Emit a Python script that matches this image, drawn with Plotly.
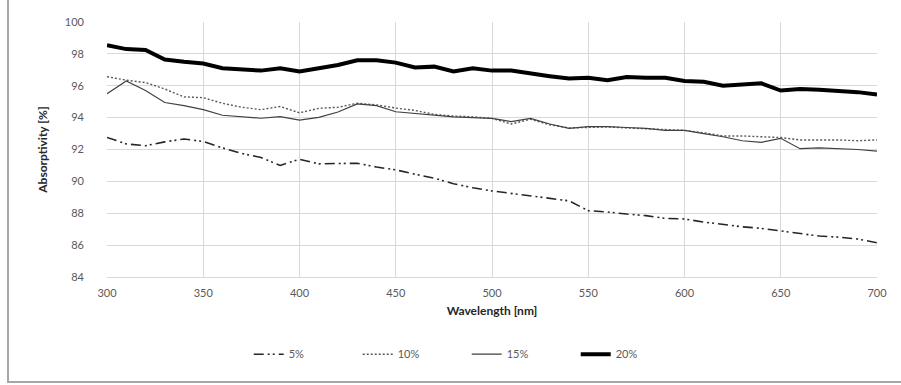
import plotly.graph_objects as go

wavelength = list(range(300, 701, 10))

abs_5 = [92.76, 92.35, 92.24, 92.48, 92.66, 92.5, 92.1, 91.75, 91.5, 91.0,
         91.39, 91.1, 91.12, 91.14, 90.9, 90.72, 90.45, 90.2, 89.85, 89.6,
         89.4, 89.25, 89.1, 88.95, 88.78, 88.16, 88.08, 87.95, 87.85, 87.68,
         87.64, 87.45, 87.3, 87.15, 87.05, 86.9, 86.72, 86.57, 86.5, 86.38, 86.15]

abs_10 = [96.57, 96.35, 96.2, 95.8, 95.3, 95.25, 94.9, 94.65, 94.5, 94.7,
          94.3, 94.58, 94.65, 94.9, 94.8, 94.6, 94.45, 94.2, 94.1, 94.05,
          93.95, 93.6, 93.9, 93.55, 93.35, 93.4, 93.42, 93.35, 93.3, 93.25,
          93.2, 93.05, 92.85, 92.85, 92.8, 92.75, 92.6, 92.6, 92.6, 92.55, 92.6]

abs_15 = [95.5, 96.3, 95.7, 94.95, 94.75, 94.5, 94.15, 94.05, 93.96, 94.06,
          93.85, 94.02, 94.35, 94.86, 94.75, 94.37, 94.25, 94.15, 94.05, 94.0,
          93.95, 93.75, 93.95, 93.6, 93.33, 93.43, 93.43, 93.38, 93.33, 93.2,
          93.2, 93.0, 92.8, 92.55, 92.45, 92.7, 92.05, 92.1, 92.05, 92.0, 91.9]

abs_20 = [98.55, 98.3, 98.25, 97.65, 97.5, 97.4, 97.1, 97.05, 96.95, 97.1,
          96.9, 97.1, 97.3, 97.6, 97.6, 97.45, 97.15, 97.2, 96.9, 97.1,
          96.95, 96.95, 96.75, 96.6, 96.45, 96.5, 96.35, 96.55, 96.5, 96.5,
          96.3, 96.25, 96.0, 96.1, 96.15, 95.7, 95.8, 95.75, 95.7, 95.6, 95.45]

series_names = ["5%", "10%", "15%", "20%"]

fig = go.Figure()
fig.add_trace(go.Scatter(x=wavelength, y=abs_5, name=series_names[0], mode="lines",
                         line=dict(color="#262626", width=1.6, dash="10px,4px,2px,3px,2px,4px")))
fig.add_trace(go.Scatter(x=wavelength, y=abs_10, name=series_names[1], mode="lines",
                         line=dict(color="#595959", width=1.4, dash="2px,2px")))
fig.add_trace(go.Scatter(x=wavelength, y=abs_15, name=series_names[2], mode="lines",
                         line=dict(color="#404040", width=1.2)))
fig.add_trace(go.Scatter(x=wavelength, y=abs_20, name=series_names[3], mode="lines",
                         line=dict(color="#000000", width=4)))

font_family = "Lato, 'Liberation Sans', sans-serif"

fig.update_layout(
    width=901, height=385,
    margin=dict(l=107, r=24, t=22, b=108),
    paper_bgcolor="white", plot_bgcolor="white",
    font=dict(family=font_family, color="#595959", size=11),
    showlegend=True,
    legend=dict(orientation="h", xref="container", yref="container",
                x=0.518, xanchor="center", y=0.08, yanchor="middle",
                font=dict(size=11, color="#595959"),
                entrywidth=64, entrywidthmode="pixels",
                bgcolor="rgba(0,0,0,0)"),
    xaxis=dict(range=[300, 700], dtick=50, tick0=300, showgrid=True,
               gridcolor="#d9d9d9", gridwidth=1, zeroline=False,
               showline=True, linecolor="#d9d9d9", linewidth=1,
               ticks="", ticklabelstandoff=6,
               title=dict(text="<b>Wavelength [nm]</b>", standoff=8,
                          font=dict(size=12, color="#262626"))),
    yaxis=dict(range=[84, 100], dtick=2, tick0=84, showgrid=True,
               gridcolor="#d9d9d9", gridwidth=1, zeroline=False,
               showline=False, ticks="", ticklabelstandoff=22,
               title=dict(text="<b>Absorptivity [%]</b>", standoff=14,
                          font=dict(size=12, color="#262626"))),
)

# outer chart frame (left and bottom edges visible; top/right fall outside the picture)
fy = -(382 - 277) / 255
fx = (8 - 107) / 770
fig.add_shape(type="rect", xref="paper", yref="paper",
              x0=fx, x1=1.3, y0=fy, y1=1.3,
              line=dict(color="#a6a6a6", width=2), fillcolor="rgba(0,0,0,0)",
              layer="below")

fig.write_html("out.html",
               config={"displayModeBar": False},
               post_script="document.body.style.margin='0px';document.body.style.overflow='hidden';")
